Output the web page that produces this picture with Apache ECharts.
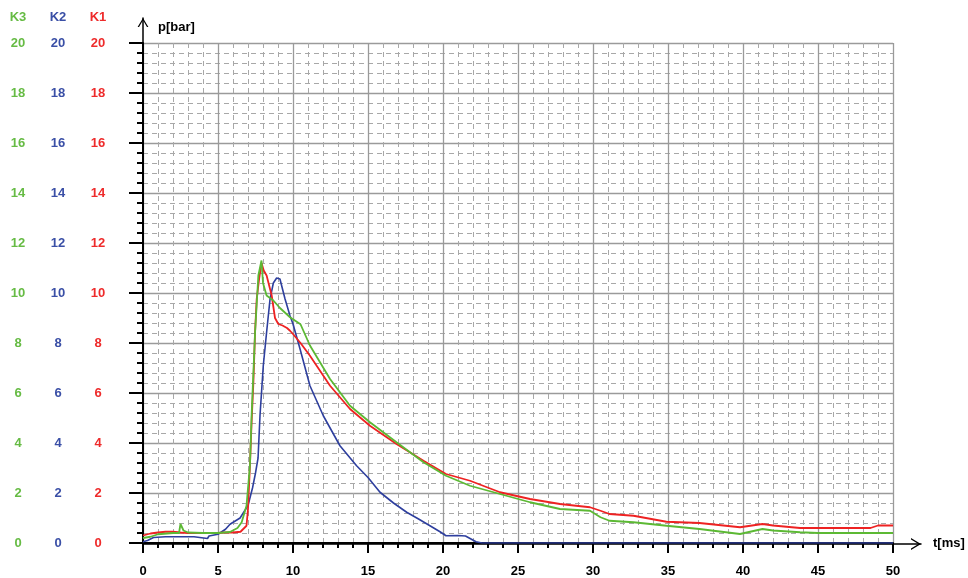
<!DOCTYPE html>
<html>
<head>
<meta charset="utf-8">
<script src="https://cdn.jsdelivr.net/npm/echarts@6/dist/echarts.min.js"></script>
<style>
html,body{margin:0;padding:0;background:#fff;}
#chart{width:968px;height:578px;}
</style>
</head>
<body>
<div id="chart"></div>
<script>
// ---- data (t in ms, p in bar) ----
const k1T = [0, 0.5, 1, 1.5, 2, 2.5, 3, 4, 5, 5.5, 6, 6.5, 6.9, 7.0, 7.13, 7.24, 7.36, 7.47, 7.58, 7.75, 7.9, 8.05, 8.24, 8.58, 8.8, 9.02, 9.3, 9.6, 9.8, 10.0, 10.5, 11.13, 12.47, 13.8, 15.13, 16.9, 18.7, 20.2, 21.8, 23.8, 25.8, 27.8, 29.8, 30.5, 31.1, 32.7, 34.9, 37.1, 39.8, 41.3, 42, 43.8, 45, 47, 48.5, 49, 50];
const k1P = [0.3, 0.38, 0.42, 0.45, 0.45, 0.42, 0.4, 0.4, 0.4, 0.42, 0.42, 0.45, 0.69, 1.36, 3.1, 4.83, 6.43, 8.43, 9.76, 10.6, 11.2, 10.9, 10.7, 9.9, 9.0, 8.76, 8.7, 8.6, 8.49, 8.36, 8.0, 7.49, 6.29, 5.36, 4.69, 3.96, 3.29, 2.76, 2.49, 2.03, 1.76, 1.56, 1.43, 1.29, 1.16, 1.09, 0.85, 0.8, 0.63, 0.76, 0.7, 0.6, 0.6, 0.6, 0.6, 0.7, 0.7];

const k2T = [0, 0.3, 0.7, 1.5, 2.5, 3.4, 3.5, 4.3, 4.4, 5, 5.5, 5.8, 6.47, 7.0, 7.3, 7.5, 7.67, 7.8, 8.02, 8.24, 8.47, 8.69, 8.91, 9.13, 9.47, 9.8, 10.0, 10.47, 11.13, 12.02, 13.13, 14.24, 15.0, 15.8, 16.7, 17.58, 18.4, 19.13, 19.8, 20.2, 21.0, 21.5, 22.2, 22.6, 50];
const k2P = [0.05, 0.1, 0.22, 0.25, 0.25, 0.25, 0.18, 0.18, 0.28, 0.35, 0.55, 0.75, 1.0, 1.5, 2.2, 2.8, 3.4, 5.1, 7.1, 8.43, 9.76, 10.4, 10.6, 10.56, 9.76, 9.09, 8.76, 7.76, 6.29, 5.09, 3.89, 3.09, 2.62, 2.03, 1.6, 1.23, 0.95, 0.69, 0.45, 0.29, 0.3, 0.28, 0.05, 0, 0];

const k3T = [0, 0.5, 1, 2, 2.4, 2.5, 2.7, 3, 4, 5, 5.8, 6.3, 6.58, 6.9, 7.13, 7.24, 7.47, 7.69, 7.9, 8.0, 8.24, 8.69, 9.13, 9.8, 10.5, 11.13, 12.47, 13.8, 15.13, 16.9, 18.7, 20.2, 21.8, 23.8, 25.8, 27.8, 29.8, 30.5, 31.1, 32.7, 34.9, 37.1, 39.8, 41.3, 42, 43.8, 45, 47, 50];
const k3P = [0.2, 0.25, 0.35, 0.4, 0.4, 0.76, 0.5, 0.42, 0.4, 0.4, 0.44, 0.6, 0.83, 1.49, 3.1, 5.1, 8.4, 10.7, 11.3, 10.4, 9.9, 9.7, 9.4, 9.03, 8.75, 7.9, 6.56, 5.49, 4.83, 4.03, 3.23, 2.69, 2.29, 1.96, 1.63, 1.36, 1.29, 1.03, 0.89, 0.83, 0.69, 0.56, 0.36, 0.56, 0.5, 0.43, 0.4, 0.4, 0.4];

const xRange = [0, 50];   // tick labels 0,5,...,50
const xStep = 5;
const yRange = [0, 20];   // tick labels 0,2,...,20
const yStep = 2;
const channelNames = ['K1', 'K2', 'K3'];

// ---- styles / layout ----
const FONT = 'Liberation Sans, Arial, sans-serif';
const RED = '#ee2222', BLUE = '#2e3f9e', GREEN = '#5cb934';
const LBL_RED = '#ee2b2b', LBL_BLUE = '#3a4fa6', LBL_GREEN = '#66bb44';
const GRID_LEFT = 143, GRID_TOP = 43;
const chevron = 'path://M0,10 L6,0 L12,10 L10.4,10 L6,2.6 L1.6,10 Z';
const channelCols = [
  { name: channelNames[0], color: LBL_RED, offset: 45 },
  { name: channelNames[1], color: LBL_BLUE, offset: 85 },
  { name: channelNames[2], color: LBL_GREEN, offset: 125 }
];

function pairs(t, p) { return t.map((v, i) => [v, p[i]]); }

const labelAxis = (col) => ({
  type: 'value', gridIndex: 0, position: 'left', offset: col.offset,
  min: yRange[0], max: yRange[1], interval: yStep,
  axisLine: { show: false }, axisTick: { show: false },
  splitLine: { show: false },
  axisLabel: { color: col.color, fontFamily: FONT, fontWeight: 'bold', fontSize: 13, align: 'center', margin: 0 }
});

const option = {
  animation: false,
  backgroundColor: '#ffffff',
  grid: [
    { left: GRID_LEFT, top: GRID_TOP, width: 750, height: 501 },
    { left: GRID_LEFT, top: GRID_TOP, width: 778, height: 501 },
    { left: GRID_LEFT, top: 18, width: 750, height: 526 }
  ],
  graphic: channelCols.map(col => ({
    type: 'text', x: GRID_LEFT - col.offset, y: 11, silent: true,
    style: { text: col.name, fill: col.color, font: 'bold 13px ' + FONT, textAlign: 'center' }
  })),
  xAxis: [
    {
      type: 'value', gridIndex: 0, min: xRange[0], max: xRange[1], interval: xStep,
      name: 't[ms]', nameLocation: 'end', nameGap: 40,
      nameTextStyle: { color: '#000', fontFamily: FONT, fontWeight: 'bold', fontSize: 13 },
      axisLine: { show: true, onZero: false, lineStyle: { color: '#000', width: 2 } },
      axisTick: { show: true, inside: false, length: 10, lineStyle: { color: '#000', width: 2 } },
      minorTick: { show: true, splitNumber: 5, length: 5, lineStyle: { color: '#000', width: 2 } },
      axisLabel: { color: '#000', fontFamily: FONT, fontWeight: 'bold', fontSize: 13, margin: 22 },
      splitLine: { show: true, lineStyle: { color: '#9a9a9a', width: 1.3 } },
      minorSplitLine: { show: true, lineStyle: { color: '#a8a8a8', width: 1, type: [5, 4] } }
    },
    {
      type: 'value', gridIndex: 1, min: 0, max: 1,
      axisLine: { show: true, onZero: false, symbol: ['none', chevron], symbolSize: [12, 10], symbolOffset: [0, -5],
        lineStyle: { color: '#000', width: 1.5 } },
      axisTick: { show: false }, axisLabel: { show: false }, splitLine: { show: false }
    },
    { type: 'value', gridIndex: 2, min: 0, max: 1, show: false }
  ],
  yAxis: [
    {
      type: 'value', gridIndex: 0, position: 'left', min: yRange[0], max: yRange[1], interval: yStep,
      name: 'p[bar]', nameLocation: 'end', nameGap: 9,
      nameTextStyle: { color: '#000', fontFamily: FONT, fontWeight: 'bold', fontSize: 13, align: 'left', padding: [0, 0, 0, 15] },
      axisLine: { show: true, onZero: false, lineStyle: { color: '#000', width: 2 } },
      axisTick: { show: true, inside: false, length: 14, lineStyle: { color: '#000', width: 2 } },
      minorTick: { show: true, splitNumber: 5, length: 6, lineStyle: { color: '#000', width: 2 } },
      axisLabel: { show: false },
      splitLine: { show: true, lineStyle: { color: '#9a9a9a', width: 1.3 } },
      minorSplitLine: { show: true, lineStyle: { color: '#a8a8a8', width: 1, type: [5, 4] } }
    },
    labelAxis(channelCols[0]),
    labelAxis(channelCols[1]),
    labelAxis(channelCols[2]),
    { type: 'value', gridIndex: 1, min: 0, max: 1, show: false },
    {
      type: 'value', gridIndex: 2, min: 0, max: 1, position: 'left',
      axisLine: { show: true, onZero: false, symbol: ['none', chevron], symbolSize: [12, 9], symbolOffset: [0, -4.5],
        lineStyle: { color: '#000', width: 1.5 } },
      axisTick: { show: false }, axisLabel: { show: false }, splitLine: { show: false }
    }
  ],
  series: [
    { name: channelNames[1], type: 'line', xAxisIndex: 0, yAxisIndex: 0, data: pairs(k2T, k2P),
      showSymbol: false, symbol: 'none', lineStyle: { color: BLUE, width: 1.6 }, z: 3 },
    { name: channelNames[0], type: 'line', xAxisIndex: 0, yAxisIndex: 0, data: pairs(k1T, k1P),
      showSymbol: false, symbol: 'none', lineStyle: { color: RED, width: 1.8 }, z: 4 },
    { name: channelNames[2], type: 'line', xAxisIndex: 0, yAxisIndex: 0, data: pairs(k3T, k3P),
      showSymbol: false, symbol: 'none', lineStyle: { color: GREEN, width: 1.8 }, z: 5 }
  ]
};

const chart = echarts.init(document.getElementById('chart'), null, { renderer: 'canvas' });
chart.setOption(option);
</script>
</body>
</html>
